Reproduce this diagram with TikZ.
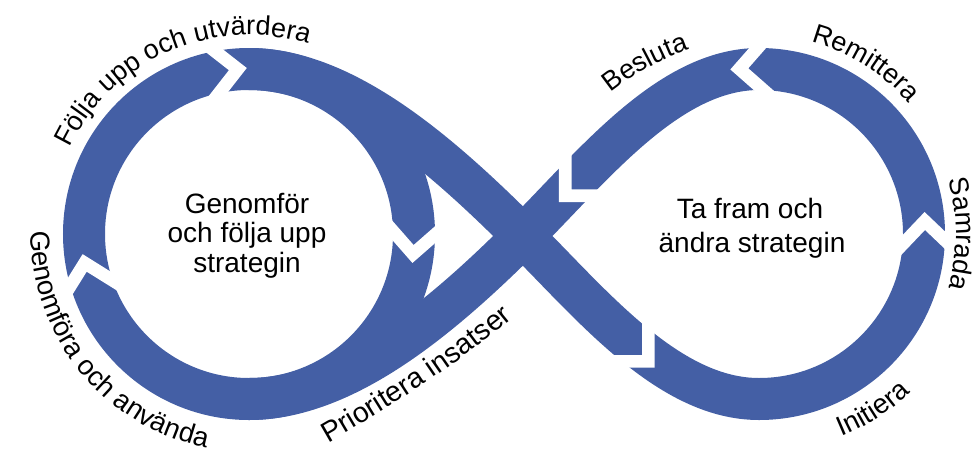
\documentclass[tikz,border=0pt]{standalone}
\usepackage{fontspec}
\setmainfont{Liberation Sans}
\usetikzlibrary{decorations.text,calc}
\definecolor{bandblue}{RGB}{68,95,165}
\newcommand\lblfont{\fontsize{27}{29}\selectfont}
\newcommand\lblfontb{\fontsize{28.5}{30}\selectfont}
\newcommand\lblfontc{\fontsize{27.5}{29}\selectfont}
\begin{document}
\begin{tikzpicture}[x=1pt,y=-1pt,
  band/.style={draw=bandblue, line width=42pt},
  ctext/.style={font=\fontsize{28}{30}\selectfont, text=black, inner sep=0pt, anchor=base},
  lbl/.style={decorate, decoration={text along path, text={#1}, text align=center}},
  lblleft/.style={decorate, decoration={text along path, text={#1}, text align=left}},
  gapchev/.pic={\fill[white] (-26,26) -- (0,0) -- (-26,-26) -- (-8,-26) -- (18,0) -- (-8,26) -- cycle;}
]
\useasboundingbox (0,0) rectangle (979,453);
\coordinate (LC) at (249,234);
\coordinate (RC) at (759,234);
\coordinate (X) at (523,236);

% bands
\draw[band] (LC) circle[radius=165];
\draw[band] (249,69) .. controls (344,69) and (440,153) .. (X)
  .. controls (593,306) and (669,399) .. (759,399)
  arc[start angle=90, end angle=-90, radius=165]
  .. controls (669,69) and (593,166) .. (X)
  .. controls (440,319) and (344,399) .. (249,399);

% chevron gaps
\pic[rotate=7] at (228.9,70.2) {gapchev};
\pic[rotate=-93.8] at (413.6,245) {gapchev};
\pic[rotate=103.1] at (86.7,271.7) {gapchev};
\pic[rotate=91.4] at (925,230) {gapchev};
\pic[rotate=-176.3] at (748.3,68.3) {gapchev};
\pic[rotate=-135] at (571.7,189.3) {gapchev};
\pic[rotate=-45] at (642,355) {gapchev};

% curved labels
\path[lbl={|\lblfont|Följa upp och utvärdera}] ($(LC)+(-163.5:199)$) arc[start angle=-163.5, end angle=-63.5, radius=199];
\path[lbl={|\lblfontc|Genomföra och använda}] ($(LC)+(192:218)$) arc[start angle=192, end angle=90, radius=218];
\path[lblleft={|\lblfontb|Prioritera insatser}] (328,443) .. controls (372,418) and (450,370) .. (513,318) -- (540,294);
\path[lbl={|\lblfont|Besluta}] (602,100) .. controls (626,79) and (656,60) .. (700,46);
\path[lbl={|\lblfont|Remittera}] ($(RC)+(-88:199)$) arc[start angle=-88, end angle=-28, radius=199];
\path[lbl={|\lblfont|Samrada}] ($(RC)+(-35:197)$) arc[start angle=-35, end angle=35, radius=197];
\path[lbl={|\lblfontc|Initiera}] ($(RC)+(87:219)$) arc[start angle=87, end angle=27, radius=219];

% centre texts
\node[ctext] (c1) at (247,213) {Genomför};
\node[ctext] (c2) at (247,242) {och följa upp};
\node[ctext] (c3) at (247,272) {strategin};
\node[ctext] (d1) at (750,218) {Ta fram och};
\node[ctext] (d2) at (752,252) {ändra strategin};
\end{tikzpicture}
\end{document}
